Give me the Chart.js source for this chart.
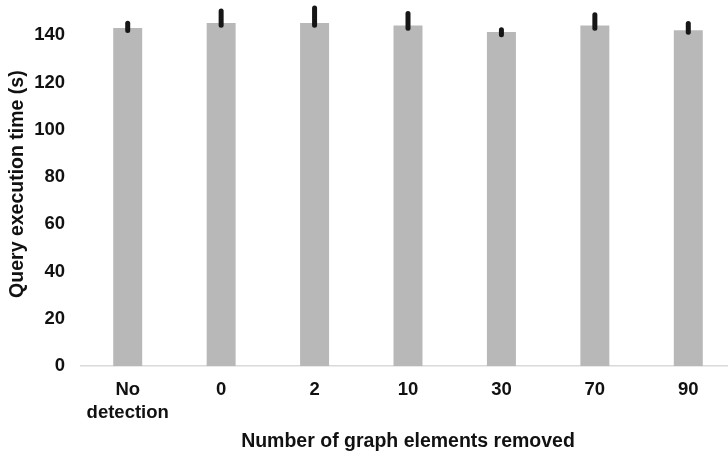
<!DOCTYPE html>
<html>
<head>
<meta charset="utf-8">
<script src="https://cdn.jsdelivr.net/npm/chart.js@4.4.1/dist/chart.umd.min.js"></script>
<style>
  html, body { margin: 0; padding: 0; background: #ffffff; overflow: hidden; }
  #wrap { width: 735px; height: 454px; }
</style>
</head>
<body>
<div id="wrap"><canvas id="c" width="735" height="454"></canvas></div>
<script>
// Query execution time per number of removed graph elements
const categories = [["No", "detection"], "0", "2", "10", "30", "70", "90"];
const meanTimes  = [143.0, 145.1, 145.1, 144.1, 141.3, 144.1, 142.1];
const errLow     = [142.0, 144.2, 144.2, 142.9, 140.2, 142.9, 141.2];
const errHigh    = [145.0, 150.2, 151.5, 149.1, 142.3, 148.6, 144.9];
const yTicks     = [0, 20, 40, 60, 80, 100, 120, 140];

const FONT = "'Liberation Sans', Arial, sans-serif";

// Draws a vertical error bar over each bar from errLow to errHigh
const errorBars = {
  id: 'errorBars',
  afterDatasetsDraw(chart) {
    const ctx = chart.ctx;
    const meta = chart.getDatasetMeta(0);
    const y = chart.scales.y;
    ctx.save();
    ctx.strokeStyle = '#161616';
    ctx.lineWidth = 5;
    ctx.lineCap = 'round';
    meta.data.forEach((bar, i) => {
      ctx.beginPath();
      ctx.moveTo(bar.x, y.getPixelForValue(errHigh[i]));
      ctx.lineTo(bar.x, y.getPixelForValue(errLow[i]));
      ctx.stroke();
    });
    ctx.restore();
  }
};

new Chart(document.getElementById('c'), {
  type: 'bar',
  data: {
    labels: categories,
    datasets: [{
      data: meanTimes,
      backgroundColor: '#b7b8b7',
      borderWidth: 0,
      categoryPercentage: 1.0,
      barPercentage: 0.31
    }]
  },
  options: {
    responsive: false,
    animation: false,
    devicePixelRatio: 1,
    layout: { padding: { top: 2, left: 3, right: 0, bottom: 1 } },
    plugins: { legend: { display: false }, tooltip: { enabled: false } },
    scales: {
      x: {
        grid: { display: false, drawTicks: false },
        border: { display: true, color: '#d9d9d9', width: 1.5 },
        ticks: {
          color: '#111111',
          font: { family: FONT, size: 18.5, weight: 'bold' },
          padding: 13,
          maxRotation: 0,
          autoSkip: false
        },
        title: {
          display: true,
          text: 'Number of graph elements removed',
          color: '#111111',
          font: { family: FONT, size: 19.5, weight: 'bold' },
          padding: { top: -7, bottom: 0 }
        }
      },
      y: {
        min: 0,
        max: 154,
        afterBuildTicks(scale) { scale.ticks = yTicks.map(v => ({ value: v })); },
        afterFit(scale) {
          scale.width = 78;
          scale.paddingTop = 0;
          scale.paddingBottom = 0;
        },
        grid: { display: false, drawTicks: false },
        border: { display: false },
        ticks: {
          color: '#111111',
          font: { family: FONT, size: 18.5, weight: 'bold' },
          padding: 16
        },
        title: {
          display: true,
          text: 'Query execution time (s)',
          color: '#111111',
          font: { family: FONT, size: 19.5, weight: 'bold' },
          padding: { top: 3, bottom: 2 }
        }
      }
    }
  },
  plugins: [errorBars]
});
</script>
</body>
</html>
